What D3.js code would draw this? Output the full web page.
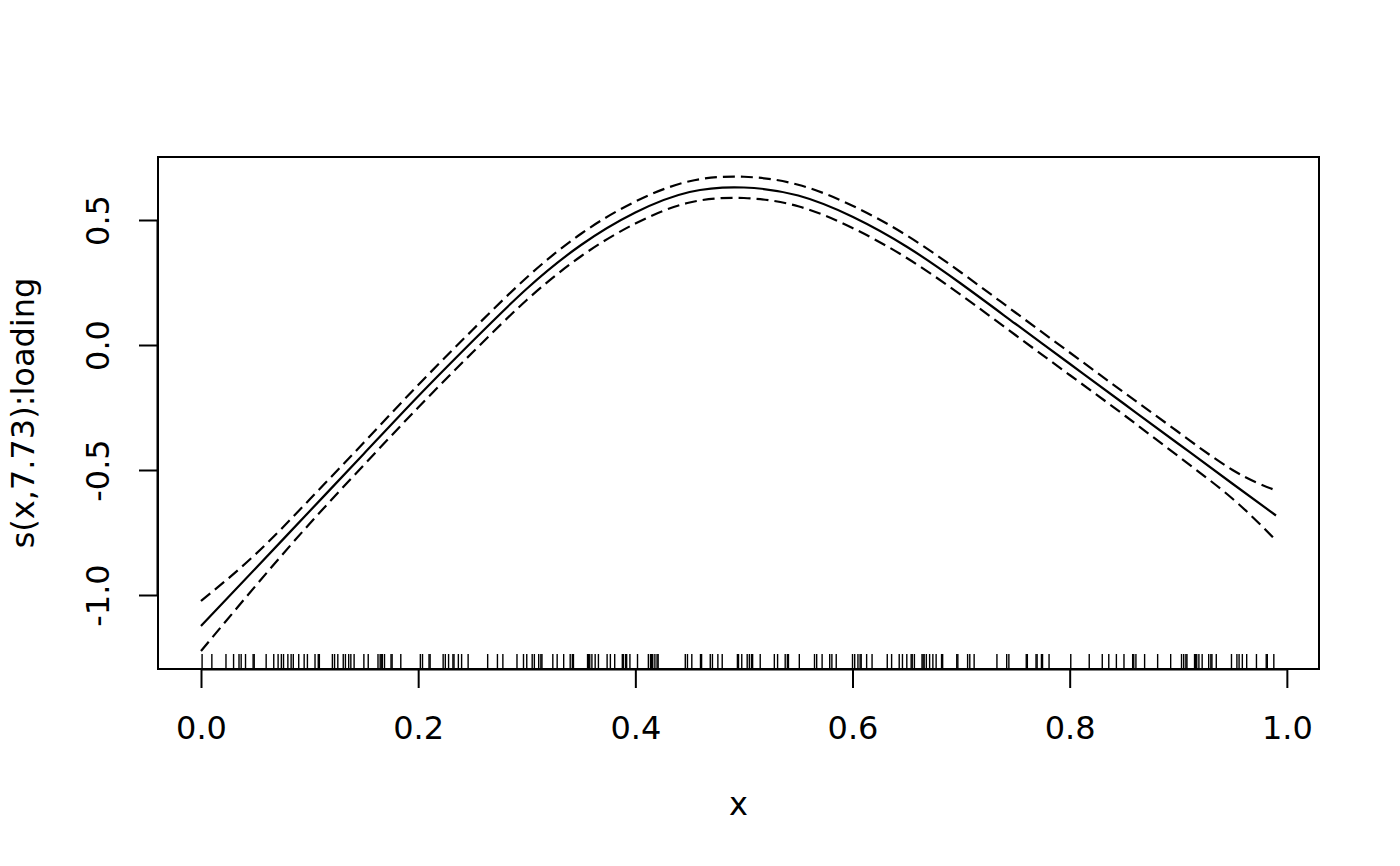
<!DOCTYPE html>
<html>
<head>
<meta charset="utf-8">
<script src="https://cdn.jsdelivr.net/npm/d3@7"></script>
<style>
  html, body { margin: 0; padding: 0; background: #fff; }
  svg { display: block; }
  text { font-family: "DejaVu Sans", sans-serif; fill: #000; }
</style>
</head>
<body>
<svg id="chart" width="1400" height="866"></svg>
<script>
// ---- data ----
const gridX = [0.00, 0.05, 0.10, 0.15, 0.20, 0.25, 0.30, 0.35, 0.40, 0.45, 0.50,
               0.55, 0.60, 0.65, 0.70, 0.75, 0.80, 0.85, 0.90, 0.95, 0.99];
const fitY = [-1.124, -0.895, -0.665, -0.435, -0.205, 0.015, 0.225, 0.400, 0.530, 0.612, 0.630,
              0.598, 0.513, 0.393, 0.245, 0.085, -0.075, -0.235, -0.395, -0.555, -0.682];
const upperY = [-1.024, -0.838, -0.618, -0.390, -0.160, 0.060, 0.270, 0.445, 0.574, 0.655, 0.673,
                0.641, 0.557, 0.438, 0.290, 0.130, -0.030, -0.190, -0.348, -0.500, -0.582];
const lowerY = [-1.224, -0.965, -0.715, -0.480, -0.250, -0.030, 0.180, 0.355, 0.486, 0.570, 0.588,
                0.555, 0.468, 0.348, 0.200, 0.040, -0.120, -0.280, -0.445, -0.615, -0.782];
const rugX = [0.001, 0.010, 0.023, 0.030, 0.035, 0.037, 0.041, 0.048, 0.049, 0.060, 0.067, 0.071,
  0.074, 0.076, 0.080, 0.083, 0.085, 0.090, 0.095, 0.098, 0.105, 0.108, 0.109, 0.121, 0.123, 0.126,
  0.131, 0.133, 0.136, 0.138, 0.141, 0.150, 0.154, 0.163, 0.165, 0.166, 0.167, 0.169, 0.175, 0.176,
  0.184, 0.202, 0.204, 0.210, 0.211, 0.223, 0.225, 0.228, 0.232, 0.233, 0.237, 0.240, 0.246, 0.264,
  0.273, 0.278, 0.291, 0.297, 0.300, 0.305, 0.307, 0.311, 0.313, 0.314, 0.324, 0.328, 0.334, 0.340,
  0.342, 0.343, 0.356, 0.357, 0.358, 0.360, 0.363, 0.366, 0.374, 0.377, 0.381, 0.388, 0.389, 0.391,
  0.392, 0.395, 0.402, 0.412, 0.414, 0.415, 0.416, 0.418, 0.420, 0.421, 0.446, 0.448, 0.452, 0.460,
  0.461, 0.469, 0.471, 0.476, 0.480, 0.494, 0.495, 0.498, 0.503, 0.505, 0.507, 0.508, 0.515, 0.528,
  0.531, 0.538, 0.540, 0.541, 0.551, 0.565, 0.567, 0.572, 0.579, 0.581, 0.585, 0.600, 0.602, 0.605,
  0.607, 0.608, 0.613, 0.618, 0.632, 0.636, 0.643, 0.646, 0.650, 0.654, 0.655, 0.657, 0.664, 0.665,
  0.666, 0.668, 0.671, 0.674, 0.677, 0.682, 0.683, 0.696, 0.697, 0.706, 0.708, 0.712, 0.733, 0.742,
  0.744, 0.760, 0.761, 0.769, 0.770, 0.774, 0.775, 0.781, 0.801, 0.818, 0.830, 0.836, 0.843, 0.850,
  0.858, 0.859, 0.861, 0.869, 0.881, 0.893, 0.903, 0.905, 0.907, 0.908, 0.915, 0.916, 0.917, 0.919,
  0.922, 0.928, 0.930, 0.931, 0.935, 0.949, 0.954, 0.956, 0.959, 0.963, 0.972, 0.981, 0.982, 0.988];
const xTicks = [0.0, 0.2, 0.4, 0.6, 0.8, 1.0];
const yTicks = [-1.0, -0.5, 0.0, 0.5];
const xLabel = "x";
const yLabel = "s(x,7.73):loading";

// ---- layout ----
const svg = d3.select("#chart");
const box = { left: 158, right: 1319, top: 157, bottom: 669 };
const x = d3.scaleLinear().domain([-0.0396, 1.0296]).range([box.left, box.right]);
const y = d3.scaleLinear().domain([-1.296, 0.752]).range([box.bottom, box.top]);

const fontSize = 32;
const tickLen = 19;

// box
svg.append("rect")
  .attr("x", box.left).attr("y", box.top)
  .attr("width", box.right - box.left).attr("height", box.bottom - box.top)
  .attr("fill", "none").attr("stroke", "#000").attr("stroke-width", 2);

// x axis
const xAxis = d3.axisBottom(x).tickValues(xTicks).tickSize(tickLen).tickPadding(28)
  .tickFormat(d3.format(".1f"));
const gx = svg.append("g").attr("transform", `translate(0,${box.bottom})`).call(xAxis);
gx.select(".domain").attr("d", `M${x(0)},0.5H${x(1)}`).attr("stroke-width", 2);
gx.selectAll(".tick line").attr("stroke-width", 2);
gx.selectAll(".tick text").attr("font-size", fontSize).attr("font-family", "DejaVu Sans");

// y axis
const yAxis = d3.axisLeft(y).tickValues(yTicks).tickSize(tickLen).tickPadding(0)
  .tickFormat(d3.format(".1f"));
const gy = svg.append("g").attr("transform", `translate(${box.left},0)`).call(yAxis);
gy.select(".domain").attr("d", `M-0.5,${y(-1.0)}V${y(0.5)}`).attr("stroke-width", 2);
gy.selectAll(".tick line").attr("stroke-width", 2);
gy.selectAll(".tick text")
  .attr("font-size", fontSize).attr("font-family", "DejaVu Sans")
  .attr("x", null).attr("dy", null)
  .attr("text-anchor", "middle")
  .attr("transform", "translate(-58,0) rotate(-90)")
  .attr("dominant-baseline", "middle")
  .text(d => d3.format(".1f")(d).replace("−", "-"));

// axis titles
svg.append("text").attr("x", (box.left + box.right) / 2).attr("y", 815)
  .attr("text-anchor", "middle").attr("font-size", fontSize).text(xLabel);
svg.append("text")
  .attr("transform", `translate(34,${(box.top + box.bottom) / 2}) rotate(-90)`)
  .attr("text-anchor", "middle").attr("font-size", fontSize).text(yLabel);

// curves
const clip = svg.append("clipPath").attr("id", "plotclip").append("rect")
  .attr("x", box.left).attr("y", box.top)
  .attr("width", box.right - box.left).attr("height", box.bottom - box.top);
const plot = svg.append("g").attr("clip-path", "url(#plotclip)");

const line = d3.line().x(d => x(d[0])).y(d => y(d[1])).curve(d3.curveNatural);
const zip = ys => gridX.map((v, i) => [v, ys[i]]);

plot.append("path").datum(zip(fitY)).attr("d", line)
  .attr("fill", "none").attr("stroke", "#000").attr("stroke-width", 2.2);
[upperY, lowerY].forEach(ys => {
  plot.append("path").datum(zip(ys)).attr("d", line)
    .attr("fill", "none").attr("stroke", "#000").attr("stroke-width", 2.2)
    .attr("stroke-dasharray", "12,6");
});

// rug
plot.selectAll("line.rug").data(rugX).enter().append("line")
  .attr("class", "rug")
  .attr("x1", d => x(d)).attr("x2", d => x(d))
  .attr("y1", box.bottom).attr("y2", box.bottom - 15)
  .attr("stroke", "#000").attr("stroke-width", 1.4);
</script>
</body>
</html>
